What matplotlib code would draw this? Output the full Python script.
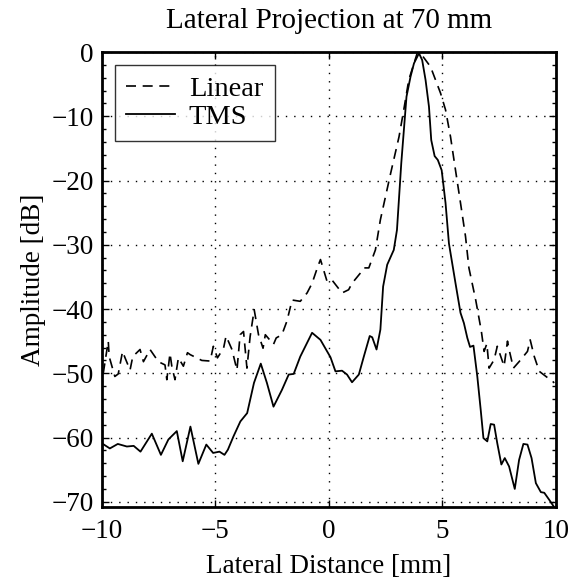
import numpy as np
import matplotlib
matplotlib.use('Agg')
import matplotlib.pyplot as plt
from matplotlib.ticker import MultipleLocator

# lateral distance [mm] and amplitude [dB]
linear_x = [-9.94, -9.87, -9.72, -9.68, -9.43, -9.28, -9.09, -8.98, -8.76, -8.64,
            -8.32, -8.17, -7.88, -7.51, -7.22, -7.14, -7.0, -6.92, -6.78, -6.63,
            -6.41, -6.23, -6.11, -5.6, -5.23, -5.09, -4.91, -4.64, -4.53, -4.27,
            -4.05, -3.91, -3.76, -3.61, -3.47, -3.29, -3.1, -2.9, -2.8, -2.44,
            -2.32, -2.07, -1.85, -1.62, -1.26, -0.96, -0.74, -0.49, -0.37, -0.08,
            0.14, 0.58, 0.87, 1.02, 1.39, 1.54, 1.76, 2.05, 2.27, 2.72,
            3.09, 3.3, 3.52, 3.89, 4.0, 4.48, 4.92, 5.14, 5.36, 5.58,
            5.8, 6.02, 6.17, 6.47, 6.72, 6.84, 6.96, 7.06, 7.28, 7.42,
            7.72, 7.87, 7.94, 8.13, 8.38, 8.75, 8.87, 9.05, 9.27, 9.64,
            9.78, 9.93]
linear_db = [-50.0, -48.4, -45.0, -47.4, -50.5, -50.1, -46.6, -47.6, -49.5, -47.4,
             -46.3, -48.2, -46.3, -48.2, -48.7, -51.0, -46.9, -48.9, -51.0, -47.6,
             -48.9, -46.8, -47.1, -48.0, -48.1, -45.8, -47.6, -46.1, -44.2, -46.3,
             -49.5, -44.0, -43.5, -49.2, -44.3, -40.1, -44.0, -46.1, -44.0, -45.5,
             -44.5, -44.0, -41.9, -38.6, -38.8, -37.5, -36.0, -33.4, -32.3, -35.7,
             -35.5, -37.5, -37.0, -36.0, -34.4, -33.6, -33.6, -30.8, -26.1, -18.9,
             -13.2, -9.0, -4.35, -0.2, 0.0, -2.3, -6.4, -9.0, -13.2, -18.4,
             -23.5, -28.7, -33.6, -38.6, -43.5, -46.6, -45.4, -49.2, -47.9, -45.8,
             -48.9, -45.0, -46.3, -49.2, -48.2, -46.6, -44.8, -47.4, -49.7, -50.7,
             -51.0, -51.5]

tms_x = [-10.0, -9.65, -9.3, -8.9, -8.6, -8.3, -7.8, -7.4, -7.07, -6.7,
         -6.44, -6.1, -5.75, -5.4, -5.1, -4.82, -4.6, -4.45, -4.2, -3.9,
         -3.6, -3.3, -3.0, -2.73, -2.44, -2.07, -1.77, -1.55, -1.26, -0.74,
         -0.37, 0.07, 0.29, 0.58, 0.8, 1.02, 1.32, 1.54, 1.8, 1.91,
         2.1, 2.27, 2.39, 2.57, 2.86, 3.0, 3.19, 3.42, 3.6, 3.75,
         3.97, 4.11, 4.26, 4.41, 4.51, 4.66, 4.8, 4.97, 5.14, 5.29,
         5.58, 5.8, 5.95, 6.1, 6.22, 6.37, 6.54, 6.69, 6.81, 6.98,
         7.13, 7.28, 7.42, 7.6, 7.75, 7.94, 8.09, 8.19, 8.38, 8.57,
         8.75, 8.93, 9.12, 9.34, 9.49, 9.71, 9.9]
tms_db = [-60.9, -61.7, -61.0, -61.4, -61.3, -62.2, -59.4, -62.7, -60.3, -59.0,
          -63.7, -58.3, -64.1, -61.1, -62.4, -62.2, -62.7, -61.9, -59.8, -57.5,
          -56.2, -51.5, -48.5, -51.5, -55.2, -52.6, -50.2, -50.1, -47.4, -43.7,
          -44.8, -47.5, -49.7, -49.6, -50.2, -51.4, -50.2, -47.4, -44.2, -44.4,
          -46.3, -43.2, -36.5, -33.1, -30.8, -27.7, -17.3, -6.95, -3.8, -1.76,
          -0.2, -1.24, -4.35, -8.5, -13.7, -16.2, -16.8, -18.4, -23.5, -29.8,
          -36.0, -40.6, -42.2, -44.5, -45.9, -45.7, -50.5, -55.7, -60.1, -60.6,
          -57.9, -58.0, -60.9, -64.2, -63.2, -64.5, -66.6, -68.0, -63.5, -61.0,
          -61.1, -63.2, -67.1, -68.5, -68.6, -69.7, -70.7]

plt.rcParams['font.family'] = 'Liberation Serif'

fig = plt.figure(figsize=(5.79, 5.78), dpi=100)
ax = fig.add_axes([0.176, 0.123, 0.784, 0.787])

ax.plot(linear_x, linear_db, color='black', linestyle=(0, (6, 4)), linewidth=1.2, label='Linear')
ax.plot(tms_x, tms_db, color='black', linestyle='-', linewidth=1.3, label='TMS')

ax.set_xlim(-10, 10)
ax.set_ylim(-70.8, 0)
ax.xaxis.set_major_locator(MultipleLocator(5))
ax.yaxis.set_major_locator(MultipleLocator(10))
ax.yaxis.set_minor_locator(MultipleLocator(2))
ax.tick_params(which='both', direction='in', top=True, right=True, labelsize=19.5)
ax.tick_params(which='major', length=5, width=1)
ax.tick_params(axis='x', pad=9)
ax.tick_params(axis='y', pad=6)
ax.tick_params(which='minor', length=3, width=1)
ax.grid(True, which='major', color='black', linestyle=(0, (1, 5)), linewidth=1)
for sp in ax.spines.values():
    sp.set_linewidth(2)

ax.set_title('Lateral Projection at 70 mm', fontsize=21, pad=17)
ax.set_xlabel('Lateral Distance [mm]', fontsize=19.5, labelpad=7)
ax.set_ylabel('Amplitude [dB]', fontsize=19.5, labelpad=4)

leg = ax.legend(loc='upper left', fontsize=20.5, frameon=True, fancybox=False,
                edgecolor='black', handlelength=1.7, borderpad=0.4,
                labelspacing=0.05, borderaxespad=0.45, handletextpad=0.5)
leg.get_frame().set_linewidth(1)

fig.savefig('out.png', dpi=100, facecolor='white')
